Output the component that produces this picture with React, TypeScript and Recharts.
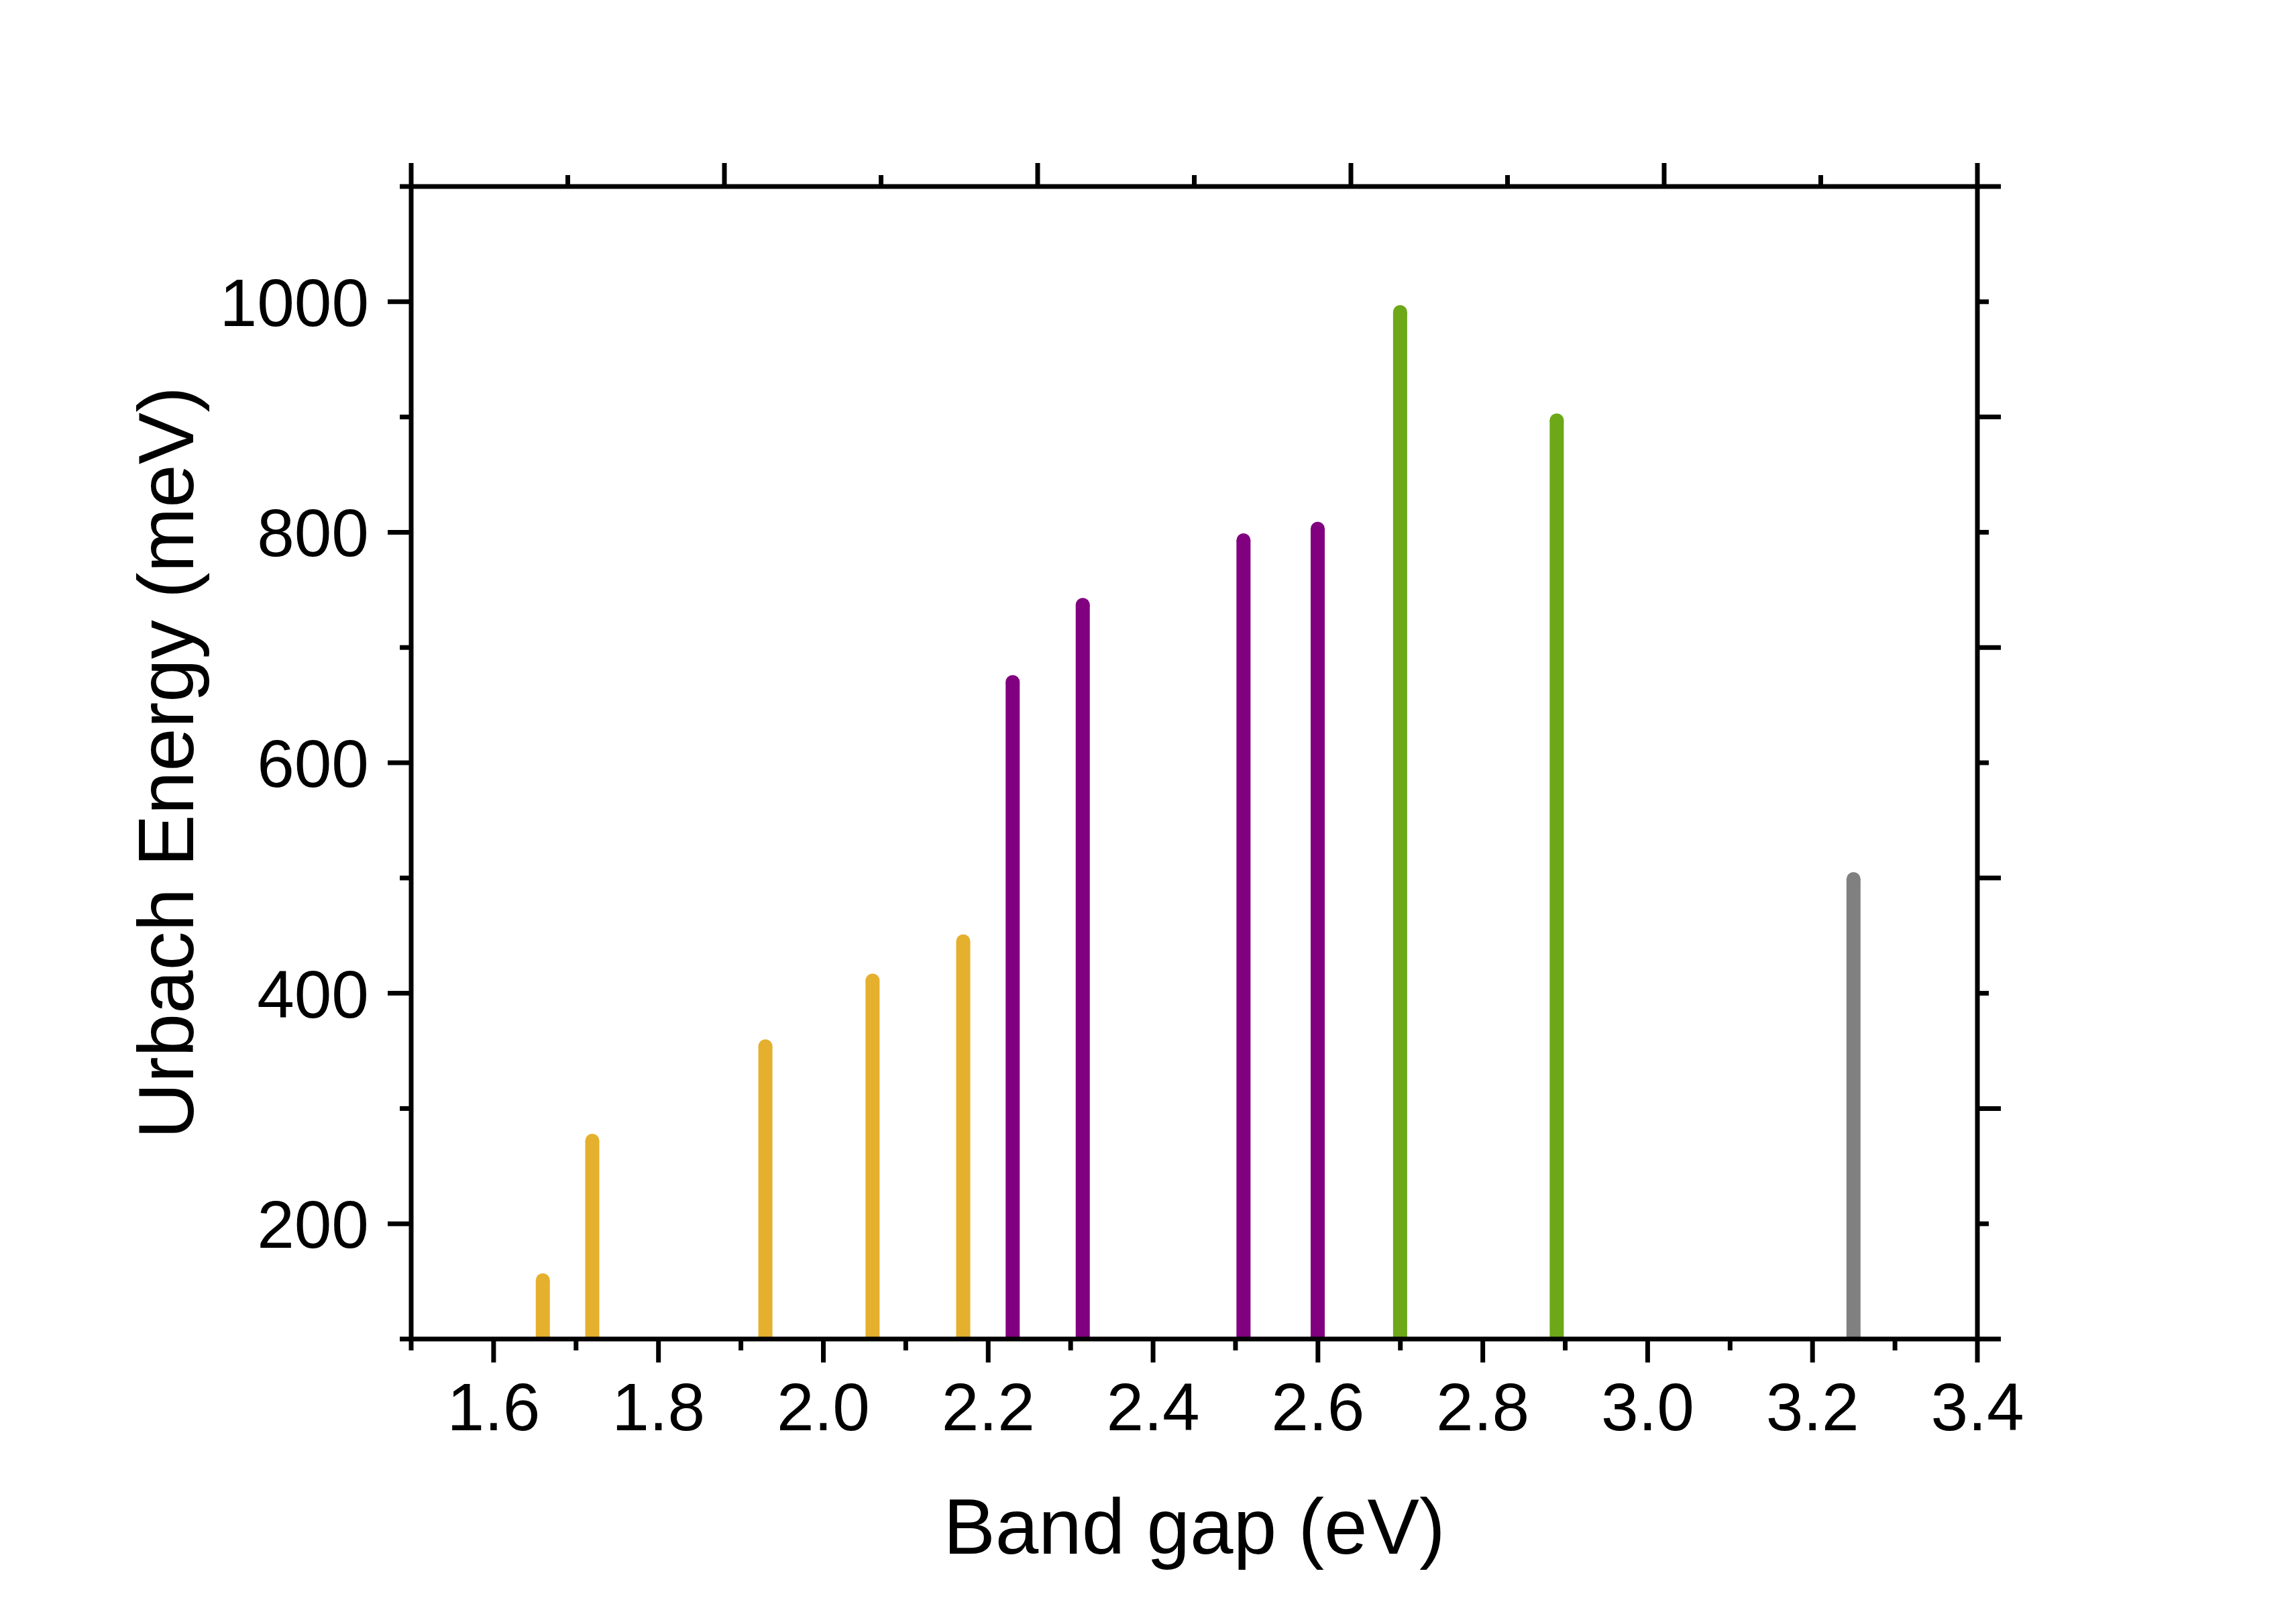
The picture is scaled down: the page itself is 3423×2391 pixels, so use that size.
import { ComposedChart, Bar, XAxis, YAxis, Cell, Label } from 'recharts'

// band gap (eV) of each sample
const bandGap = [1.66, 1.72, 1.93, 2.06, 2.17, 2.23, 2.315, 2.51, 2.6, 2.7, 2.89, 3.25]
// Urbach energy (meV)
const urbachEnergy = [151, 272, 354, 411, 445, 670, 737, 793, 803, 991, 897, 499]
// colour group of each sample
const sampleGroup = [
  'orange', 'orange', 'orange', 'orange', 'orange',
  'purple', 'purple', 'purple', 'purple',
  'green', 'green',
  'gray',
]

const GROUP_COLORS: Record<string, string> = {
  orange: '#e5b02e',
  purple: '#800080',
  green: '#6ca818',
  gray: '#808080',
}

const xTicks = [1.5, 1.6, 1.7, 1.8, 1.9, 2.0, 2.1, 2.2, 2.3, 2.4, 2.5, 2.6, 2.7, 2.8, 2.9, 3.0, 3.1, 3.2, 3.3, 3.4]
const xLabelTicks = [1.6, 1.8, 2.0, 2.2, 2.4, 2.6, 2.8, 3.0, 3.2, 3.4]
const yTicks = [100, 200, 300, 400, 500, 600, 700, 800, 900, 1000, 1100]
const yLabelTicks = [200, 400, 600, 800, 1000]
// the top and right frame axes have their own tick spacing (ticks only, no labels)
const topTicks = [1.5, 1.69, 1.88, 2.07, 2.26, 2.45, 2.64, 2.83, 3.02, 3.21, 3.4]
const topMajorTicks = [1.5, 1.88, 2.26, 2.64, 3.02, 3.4]
const rightMajorTicks = [100, 300, 500, 700, 900, 1100]

const FONT = '"Liberation Sans", Arial, sans-serif'
const LONG = 35
const SHORT = 17
const LINE = 7

const has = (list: number[], v: number) => list.some((t) => Math.abs(t - v) < 1e-6)

const rows = bandGap.map((gap, i) => ({
  gap,
  energy: urbachEnergy[i],
  color: GROUP_COLORS[sampleGroup[i]],
}))

const DropLine = (props: any) => {
  const { x, y, width, height, fill } = props
  if (width == null || height == null) return null
  const r = width / 2
  return (
    <g>
      <rect x={x} y={y} width={width} height={height} fill={fill} />
      <circle cx={x + r} cy={y} r={r} fill={fill} />
    </g>
  )
}

const BottomTick = ({ x, y, payload }: any) => {
  const major = has(xLabelTicks, payload.value)
  return (
    <g>
      <line x1={x} x2={x} y1={y} y2={y + (major ? LONG : SHORT)} stroke="#000" strokeWidth={LINE} />
      {major && (
        <text x={x} y={y + 136} textAnchor="middle" fontSize={100} fontFamily={FONT} fill="#000">
          {payload.value.toFixed(1)}
        </text>
      )}
    </g>
  )
}

const LeftTick = ({ x, y, payload }: any) => {
  const major = has(yLabelTicks, payload.value)
  return (
    <g>
      <line x1={x - (major ? LONG : SHORT)} x2={x} y1={y} y2={y} stroke="#000" strokeWidth={LINE} />
      {major && (
        <text x={x - 63} y={y + 36} textAnchor="end" fontSize={100} fontFamily={FONT} fill="#000">
          {payload.value}
        </text>
      )}
    </g>
  )
}

const TopTick = ({ x, y, payload }: any) => {
  const major = has(topMajorTicks, payload.value)
  return <line x1={x} x2={x} y1={y - (major ? LONG : SHORT)} y2={y} stroke="#000" strokeWidth={LINE} />
}

const RightTick = ({ x, y, payload }: any) => {
  const major = has(rightMajorTicks, payload.value)
  return <line x1={x} x2={x + (major ? LONG : SHORT)} y1={y} y2={y} stroke="#000" strokeWidth={LINE} />
}

const axisLine = { stroke: '#000', strokeWidth: LINE }

export default function App() {
  return (
    <ComposedChart
      width={3400}
      height={2370}
      data={rows}
      margin={{ top: 210, right: 400, bottom: 0, left: 0 }}
    >
      <XAxis
        xAxisId="bottom"
        dataKey="gap"
        type="number"
        domain={[1.5, 3.4]}
        ticks={xTicks}
        interval={0}
        allowDataOverflow
        height={382}
        axisLine={axisLine}
        tickLine={false}
        tickSize={0}
        tickMargin={0}
        tick={(p: any) => <BottomTick {...p} />}
      >
        <Label
          content={({ viewBox }: any) => (
            <text
              x={viewBox.x + viewBox.width / 2}
              y={viewBox.y + 320}
              textAnchor="middle"
              fontSize={116}
              fontFamily={FONT}
              fill="#000"
            >
              Band gap (eV)
            </text>
          )}
        />
      </XAxis>
      <XAxis
        xAxisId="top"
        orientation="top"
        dataKey="gap"
        type="number"
        domain={[1.5, 3.4]}
        ticks={topTicks}
        interval={0}
        allowDataOverflow
        height={60}
        axisLine={axisLine}
        tickLine={false}
        tickSize={0}
        tickMargin={0}
        tick={(p: any) => <TopTick {...p} />}
      />
      <YAxis
        yAxisId="left"
        type="number"
        domain={[100, 1100]}
        ticks={yTicks}
        interval={0}
        allowDataOverflow
        width={605}
        axisLine={axisLine}
        tickLine={false}
        tickSize={0}
        tickMargin={0}
        tick={(p: any) => <LeftTick {...p} />}
      >
        <Label
          content={({ viewBox }: any) => {
            const cx = viewBox.x + viewBox.width - 325
            const cy = viewBox.y + viewBox.height / 2
            return (
              <text
                x={cx}
                y={cy}
                transform={`rotate(-90 ${cx} ${cy})`}
                textAnchor="middle"
                fontSize={116}
                fontFamily={FONT}
                fill="#000"
              >
                Urbach Energy (meV)
              </text>
            )
          }}
        />
      </YAxis>
      <YAxis
        yAxisId="right"
        orientation="right"
        dataKey="energy"
        type="number"
        domain={[100, 1100]}
        ticks={yTicks}
        interval={0}
        allowDataOverflow
        width={60}
        axisLine={axisLine}
        tickLine={false}
        tickSize={0}
        tickMargin={0}
        tick={(p: any) => <RightTick {...p} />}
      />
      <Bar
        xAxisId="bottom"
        yAxisId="left"
        dataKey="energy"
        barSize={21}
        shape={(p: any) => <DropLine {...p} />}
        isAnimationActive={false}
      >
        {rows.map((r, i) => (
          <Cell key={i} fill={r.color} />
        ))}
      </Bar>
    </ComposedChart>
  )
}
